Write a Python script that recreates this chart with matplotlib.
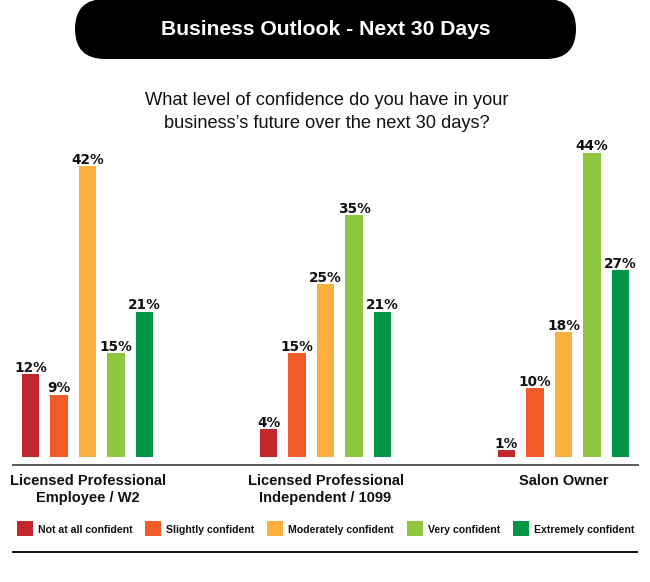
import matplotlib
matplotlib.use("Agg")
import matplotlib.pyplot as plt
from matplotlib.patches import FancyBboxPatch, Rectangle
import matplotlib.transforms as mtransforms

# ---- data ----
groups = ["Licensed Professional\nEmployee / W2",
          "Licensed Professional\nIndependent / 1099",
          "Salon Owner"]
levels = ["Not at all confident", "Slightly confident", "Moderately confident",
          "Very confident", "Extremely confident"]
not_at_all = [12, 4, 1]
slightly = [9, 15, 10]
moderately = [42, 25, 18]
very = [15, 35, 44]
extremely = [21, 21, 27]
series = [not_at_all, slightly, moderately, very, extremely]
colors = ["#C1272D", "#F15A29", "#FBB040", "#8DC63F", "#009444"]

title = "Business Outlook - Next 30 Days"
subtitle = ["What level of confidence do you have in your",
            "business\u2019s future over the next 30 days?"]

W, H = 650, 582
fig = plt.figure(figsize=(W / 100, H / 100), dpi=100)
fig.patch.set_facecolor("white")
renderer = fig.canvas.get_renderer()

ov = fig.add_axes([0, 0, 1, 1])
ov.set_xlim(0, W)
ov.set_ylim(H, 0)
ov.axis("off")


def fit(t, width_px):
    bb = t.get_window_extent(renderer)
    t.set_fontsize(t.get_fontsize() * width_px / bb.width)
    return t.get_fontsize()


# ---- title pill ----
pill = FancyBboxPatch((75, -1), 501, 60, boxstyle="round,pad=0,rounding_size=30",
                      facecolor="black", edgecolor="none")
ov.add_patch(pill)
t = ov.text(325.5, 35, title, color="white", fontweight="bold",
            family="Liberation Sans", ha="center", va="baseline", fontsize=15)
fit(t, 331)

# ---- subtitle ----
s1 = ov.text(327, 105, subtitle[0], color="#111111", family="Liberation Sans",
             ha="center", va="baseline", fontsize=14)
fs = fit(s1, 365)
ov.text(327, 128, subtitle[1], color="#111111", family="Liberation Sans",
        ha="center", va="baseline", fontsize=fs)

# ---- bars ----
px_per_pct = 6.92
pitch = 238.0
ax = fig.add_axes([0, 125 / H, 1, 317 / H])
ax.patch.set_alpha(0)
ax.set_xlim(-87.5 / pitch, (W - 87.5) / pitch)
ax.set_ylim(0, 317 / px_per_pct)
ax.axis("off")

bw = 17.5 / pitch
step = 28.5 / pitch
xs = list(range(len(groups)))
for j, (vals, c) in enumerate(zip(series, colors)):
    pos = [x + (j - 2) * step for x in xs]
    ax.bar(pos, vals, width=bw, color=c, edgecolor="none")
    for p, v in zip(pos, vals):
        ax.annotate(f"{v}%", xy=(p, v), xytext=(0, 1.6), textcoords="offset points",
                    ha="center", va="baseline", fontsize=9.8, fontweight="bold",
                    family="DejaVu Sans", color="#111111")

# axis line and bottom rule
ov.plot([12, 639], [465, 465], color="#4d4d4d", lw=1.3, solid_capstyle="butt")
ov.plot([12, 638], [552, 552], color="black", lw=1.3, solid_capstyle="butt")

# ---- group labels ----
blend = mtransforms.blended_transform_factory(ax.transData, ov.transData)
probe = ov.text(0, -50, "Licensed Professional", fontweight="bold",
                family="Liberation Sans", fontsize=10)
gfs = fit(probe, 155)
probe.remove()
for x, g in zip(xs, groups):
    for k, line in enumerate(g.split("\n")):
        ax.text(x, 485 + 17 * k, line, transform=blend, ha="center", va="baseline",
                fontsize=gfs, fontweight="bold", family="Liberation Sans",
                color="#111111")

# ---- legend ----
probe = ov.text(0, -50, levels[0], fontweight="bold", family="Liberation Sans",
                fontsize=7.5)
lfs = fit(probe, 94)
probe.remove()
x = 17
for lab, c in zip(levels, colors):
    ov.add_patch(Rectangle((x, 521), 16, 15, facecolor=c, edgecolor="none"))
    tt = ov.text(x + 21, 533, lab, ha="left", va="baseline", fontsize=lfs,
                 fontweight="bold", family="Liberation Sans", color="#111111")
    w = tt.get_window_extent(renderer).width
    x = x + 21 + w + 12.8

fig.savefig("out.png", dpi=100, facecolor="white")
